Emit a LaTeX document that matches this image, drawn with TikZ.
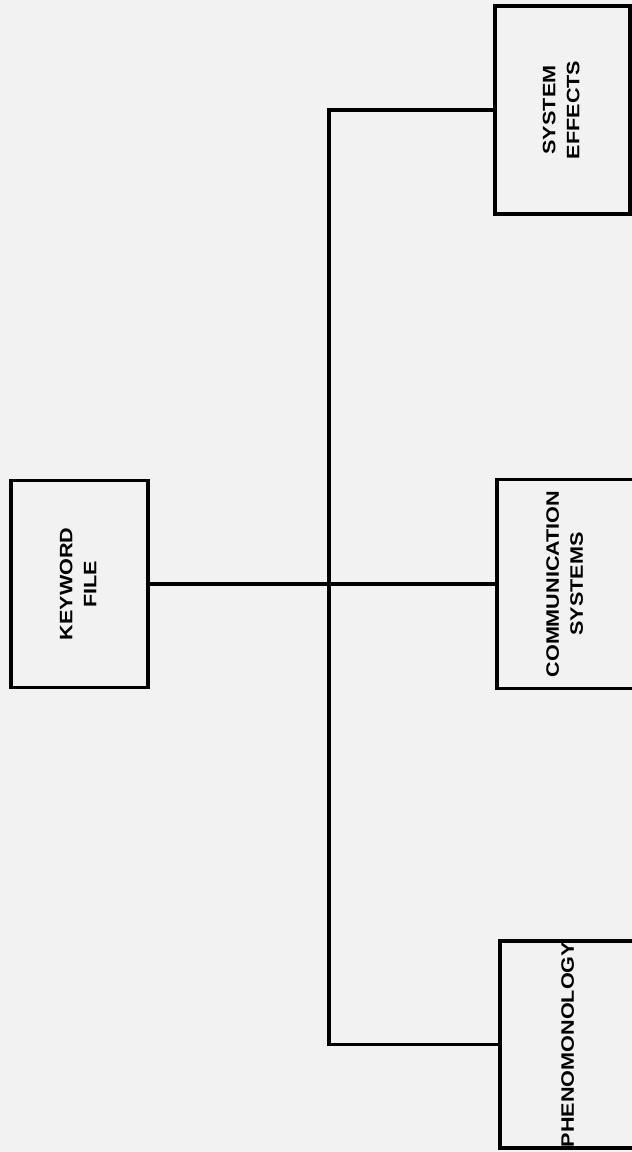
\documentclass[tikz,border=0pt]{standalone}
\usepackage{fontspec}
\setmainfont{Liberation Sans}
\usepackage{graphicx}
\newcommand{\vtext}[1]{\rotatebox{90}{\makebox[0pt]{\scalebox{1.2}[1]{\begin{tabular}{@{}c@{}}#1\end{tabular}}}}}

\begin{document}
\begin{tikzpicture}[
    x=1pt, y=-1pt,
    box/.style={rectangle, draw, line width=3.5pt, inner sep=0pt, minimum width=137pt, minimum height=207pt, font=\fontsize{18}{24}\selectfont\bfseries},
    wire/.style={line width=3.5pt, line join=miter}
]
    \useasboundingbox (0,0) rectangle (632,1152);
    \fill[black!5] (0,0) rectangle (632,1152);
    \clip (0,0) rectangle (632,1152);

    \node[box] (keyword) at (79.5,584) {\vtext{KEYWORD\\FILE}};
    \node[box, minimum width=135pt, minimum height=208pt] (effects) at (562.5,110) {\vtext{SYSTEM\\EFFECTS}};
    \node[box, minimum width=138pt, minimum height=209pt] (comms) at (566,584) {\vtext{COMMUNICATION\\SYSTEMS}};
    \node[box, minimum width=138pt] (phen) at (569,1044.5) {\vtext{PHENOMONOLOGY}};
    \coordinate (trunk) at (329,0);

    \draw[wire] (keyword.east) -- (comms.west);
    \draw[wire] (effects.west) -- (effects.west -| trunk) |- (phen.west);
\end{tikzpicture}
\end{document}
